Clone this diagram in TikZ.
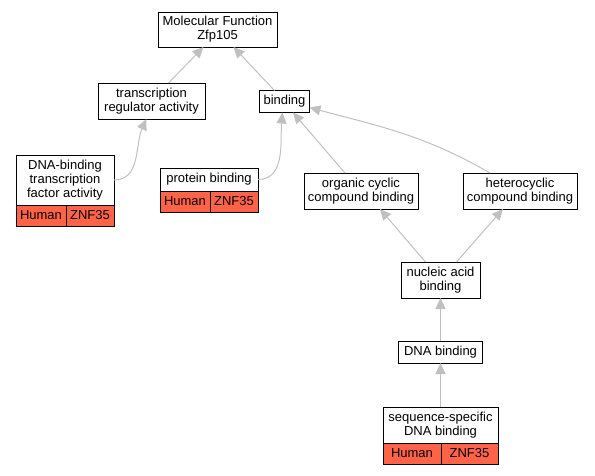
\documentclass[tikz,border=0pt]{standalone}
\usepackage{fontspec}
\setmainfont{Liberation Sans}
\usepackage{tikz}
\usetikzlibrary{positioning,arrows.meta}
\definecolor{edgegray}{HTML}{C0C0C0}
\definecolor{hitred}{HTML}{FF6347}
\tikzset{term/.style={draw=black,line width=1pt,fill=white,align=center,inner sep=0pt,outer sep=0pt,font=\fontsize{13pt}{14pt}\selectfont}}
\tikzset{cell/.style={term,fill=hitred,minimum height=21pt}}
\tikzset{isa/.style={draw=edgegray,line width=1pt,-{Triangle[length=11pt,width=10pt]}}}

\begin{document}
\begin{tikzpicture}[x=1pt,y=-1pt]
	\useasboundingbox (0,0) rectangle (595,475);
	\node[term,minimum width=119pt,minimum height=35pt] (mf) at (217.5,29.5) {Molecular Function\\Zfp105};
	\node[term,minimum width=107pt,minimum height=36pt] (tra) at (151.5,101) {transcription\\regulator activity};
	\node[term,minimum width=50pt,minimum height=22pt] (bind) at (284.5,101.5) {binding};
	% annotated terms
	\node[term,minimum width=98pt,minimum height=50pt] (dnab) at (65,180) {DNA-binding\\transcription\\factor activity};
	\node[cell,anchor=north west,minimum width=50pt] (dnabh) at (dnab.south west) {Human};
	\node[cell,anchor=north west,minimum width=48pt] (dnabz) at (dnabh.north east) {ZNF35};
	\node[term,minimum width=98pt,minimum height=23pt] (pb) at (209,179.5) {protein binding};
	\node[cell,anchor=north west,minimum width=50pt] (pbh) at (pb.south west) {Human};
	\node[cell,anchor=north west,minimum width=48pt] (pbz) at (pbh.north east) {ZNF35};
	\node[term,minimum width=114pt,minimum height=36pt] (occ) at (361,191) {organic cyclic\\compound binding};
	\node[term,minimum width=114pt,minimum height=36pt] (hcc) at (520,191) {heterocyclic\\compound binding};
	\node[term,minimum width=79pt,minimum height=36pt] (nab) at (440.5,280) {nucleic acid\\binding};
	\node[term,minimum width=84pt,minimum height=22pt,below=43pt of nab] (dna) {DNA binding};
	\node[term,minimum width=115pt,minimum height=36pt,below=44pt of dna] (ssd) {sequence-specific\\DNA binding};
	\node[cell,anchor=north west,minimum width=58pt] (ssdh) at (ssd.south west) {Human};
	\node[cell,anchor=north west,minimum width=57pt] (ssdz) at (ssdh.north east) {ZNF35};
	% is_a edges
	\draw[isa] ([xshift=17pt]tra.north) -- ([xshift=-14pt]mf.south);
	\draw[isa] ([xshift=-10pt]bind.north) -- ([xshift=16pt]mf.south);
	\draw[isa] (dnab.east) to[out=0,in=-115] ([xshift=-5pt]tra.south);
	\draw[isa] (pb.east) to[out=0,in=-95] ([xshift=-2pt]bind.south);
	\draw[isa] ([xshift=-16pt]occ.north) -- ([xshift=8.5pt]bind.south);
	\draw[isa] ([xshift=-30pt]hcc.north) to[out=150,in=-15] ([yshift=-6pt]bind.east);
	\draw[isa] ([xshift=-15pt]nab.north) -- ([xshift=19pt]occ.south);
	\draw[isa] ([xshift=16pt]nab.north) -- ([xshift=-17pt]hcc.south);
	\draw[isa] (dna) -- (nab);
	\draw[isa] (ssd) -- (dna);
\end{tikzpicture}
\end{document}
